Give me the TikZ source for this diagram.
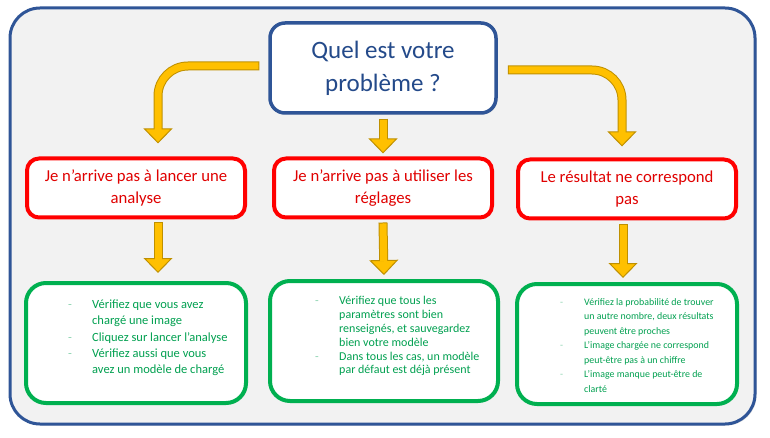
\documentclass[tikz,border=0pt]{standalone}
\usepackage{fontspec}
\setmainfont{Carlito}
\usetikzlibrary{arrows.meta,shadows}
\definecolor{frameblue}{HTML}{2F5597}
\definecolor{bggray}{HTML}{F2F2F2}
\definecolor{titleblue}{HTML}{244A8A}
\definecolor{boxred}{HTML}{FF0000}
\definecolor{textred}{HTML}{E00000}
\definecolor{boxgreen}{HTML}{00B050}
\definecolor{textgreen}{HTML}{00A050}
\definecolor{gold}{HTML}{FFC000}
\definecolor{darkgold}{HTML}{BF9000}
\newcommand{\dsh}{\textcolor{textgreen!45}{-}}
\tikzset{
  shade box/.style={drop shadow={shadow xshift=1.5pt,shadow yshift=-1.5pt,opacity=.25}},
  qbox/.style={shade box,draw=frameblue,line width=3.5pt,fill=white,rounded corners=15pt,
    minimum width=226pt,minimum height=90pt,align=center,text=titleblue,
    font=\fontsize{25}{33}\selectfont},
  rbox/.style={shade box,draw=boxred,line width=4pt,fill=white,rounded corners=12pt,
    minimum width=218pt,minimum height=59pt,align=center,text=textred,
    font=\fontsize{16.7}{22}\selectfont},
  gbox/.style={shade box,draw=boxgreen,line width=4pt,fill=white,rounded corners=20pt,
    minimum width=220pt,minimum height=120pt},
  tips/.style={anchor=north west,inner sep=0pt,text=textgreen},
  shaftout/.style={draw=darkgold,line width=9pt,shorten >=13pt,shorten <=-1pt,rounded corners=30pt},
  shafthead/.style={draw=gold,line width=1pt,rounded corners=30pt,
    -{Triangle[width=29pt,length=15pt,fill=gold,color=darkgold]}},
  shaftin/.style={draw=gold,line width=7pt,shorten >=13.5pt,rounded corners=30pt},
}
\newcommand{\goldarrow}[1]{\draw[shaftout] #1; \draw[shafthead] #1; \draw[shaftin] #1;}

\begin{document}
\begin{tikzpicture}[x=1pt,y=-1pt]
\useasboundingbox (0,0) rectangle (770,438);
% frame
\draw [shade box,draw=frameblue,line width=3pt,fill=bggray,rounded corners=30pt] (10,8) rectangle (755,424);

% question
\node [qbox] (q) at (383,68) {Quel est votre\\problème ?};

% problems
\node [rbox] (r1) at (136,188) {Je n’arrive pas à lancer une\\analyse};
\node [rbox] (r2) at (383,188) {Je n’arrive pas à utiliser les\\réglages};
\node [rbox] (r3) at (627,189) {Le résultat ne correspond\\pas};

% answers
\node [gbox] (g1) at (136,343) {};
\node [gbox,minimum width=228pt] (g2) at (384,341) {};
\node [gbox] (g3) at (627,344) {};

\node [tips,font=\fontsize{12.5}{16.3}\selectfont] (t1) at (68,297) {%
\begin{tabular}{@{}p{24pt}@{}l@{}}
\dsh & Vérifiez que vous avez\\
     & chargé une image\\
\dsh & Cliquez sur lancer l’analyse\\
\dsh & Vérifiez aussi que vous\\
     & avez un modèle de chargé
\end{tabular}};
\node [tips,font=\fontsize{12}{13.8}\selectfont] (t2) at (315,295) {%
\begin{tabular}{@{}p{24pt}@{}l@{}}
\dsh & Vérifiez que tous les\\
     & paramètres sont bien\\
     & renseignés, et sauvegardez\\
     & bien votre modèle\\
\dsh & Dans tous les cas, un modèle\\
     & par défaut est déjà présent
\end{tabular}};
\node [tips,font=\fontsize{9.9}{14.5}\selectfont] (t3) at (560,295) {%
\begin{tabular}{@{}p{24pt}@{}l@{}}
\dsh & Vérifiez la probabilité de trouver\\
     & un autre nombre, deux résultats\\
     & peuvent être proches\\
\dsh & L’image chargée ne correspond\\
     & peut-être pas à un chiffre\\
\dsh & L’image manque peut-être de\\
     & clarté
\end{tabular}};

% arrows
\goldarrow{([xshift=-10pt,yshift=2pt]q.west) -| ([xshift=22pt,yshift=13pt]r1.north)}
\goldarrow{([yshift=-5pt]q.south) -- ([yshift=3pt]r2.north)}
\goldarrow{([xshift=11pt,yshift=-2pt]q.east) -| ([xshift=-5pt,yshift=11pt]r3.north)}
\goldarrow{([xshift=22pt,yshift=-4pt]r1.south) -- ([xshift=22pt,yshift=8pt]g1.north)}
\goldarrow{([yshift=-4pt]r2.south) -- ([yshift=4pt]g2.north)}
\goldarrow{([xshift=-4pt,yshift=-5pt]r3.south) -- ([xshift=-4pt,yshift=4pt]g3.north)}
\end{tikzpicture}
\end{document}
